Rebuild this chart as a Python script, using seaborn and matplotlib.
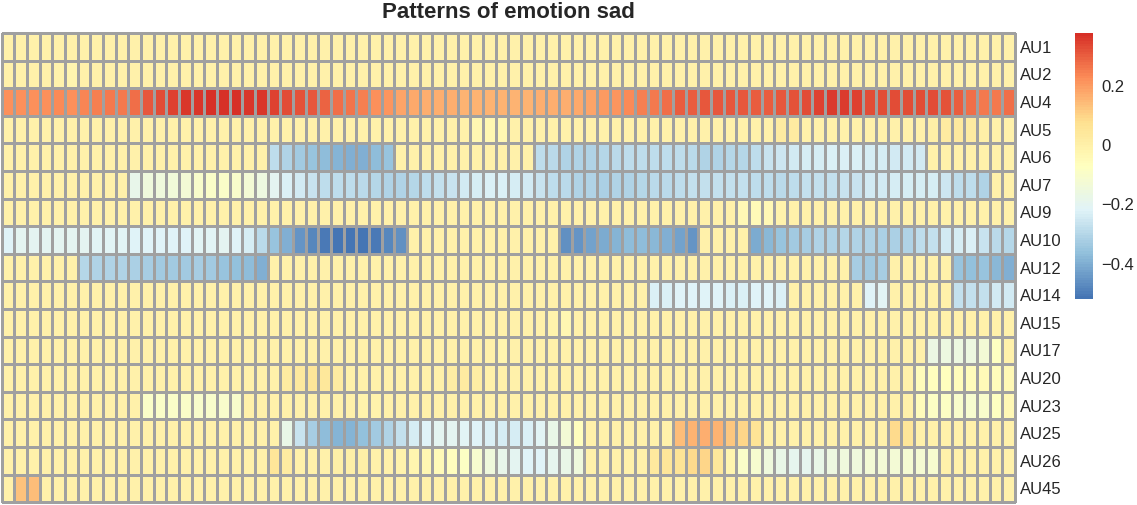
import numpy as np
import pandas as pd
import seaborn as sns
import matplotlib
matplotlib.use("Agg")
import matplotlib.pyplot as plt
from matplotlib.colors import LinearSegmentedColormap

# Action units (rows) and mean pattern value per frame (80 columns)
units = ["AU1", "AU2", "AU4", "AU5", "AU6", "AU7", "AU9", "AU10", "AU12",
         "AU14", "AU15", "AU17", "AU20", "AU23", "AU25", "AU26", "AU45"]

au1 = [0, 0, 0, 0, 0, 0, 0, 0, 0, 0,
       0, 0, 0, 0, 0, 0, 0, 0, 0, 0,
       0, 0, 0, 0, 0, 0, 0, 0, 0, 0,
       0, 0, 0, 0, 0, 0, 0, 0, 0, 0,
       0, 0, 0, 0, 0, 0, 0, 0, 0, 0,
       0, 0, 0, 0, 0, 0, 0, 0, 0, 0,
       0, 0, 0, 0, 0, 0, 0, 0, 0, 0,
       0, 0, 0, 0, 0, 0, 0, 0, 0, 0]
au2 = [0, 0, 0, 0, -0.015, -0.02, 0, 0, 0, 0,
       0, 0, 0, 0, 0, 0, 0, 0, 0, 0,
       0, 0, 0, 0, 0, 0, 0, 0, 0, 0,
       0, 0, 0, 0, 0, 0, 0, 0, 0, 0,
       0, 0, 0, 0, 0, 0, 0, 0, 0, 0,
       0, 0, 0, 0, 0, 0, 0, 0, 0, 0,
       0, 0, 0, 0, 0, 0, 0, 0, 0, 0,
       0, 0, 0, 0, 0, 0, 0, 0, 0, 0]
au4 = [0.225, 0.22, 0.225, 0.225, 0.228, 0.225, 0.24, 0.245, 0.255, 0.26,
       0.28, 0.31, 0.33, 0.348, 0.362, 0.368, 0.378, 0.378, 0.38, 0.37,
       0.362, 0.346, 0.33, 0.32, 0.31, 0.293, 0.28, 0.27, 0.25, 0.225,
       0.21, 0.19, 0.175, 0.17, 0.165, 0.165, 0.162, 0.16, 0.158, 0.158,
       0.16, 0.16, 0.165, 0.17, 0.172, 0.18, 0.19, 0.20, 0.215, 0.23,
       0.25, 0.26, 0.28, 0.30, 0.303, 0.312, 0.312, 0.31, 0.312, 0.305,
       0.305, 0.312, 0.32, 0.33, 0.345, 0.36, 0.355, 0.345, 0.33, 0.33,
       0.33, 0.33, 0.33, 0.33, 0.32, 0.305, 0.28, 0.26, 0.26, 0.28]
au5 = [0, 0, 0, 0, 0, 0, 0, 0, 0, 0,
       0, 0, 0, 0, 0, 0, 0, 0, 0, 0,
       0, 0, 0, 0, 0, 0, 0, 0, 0, 0,
       0, 0, 0, 0, 0, 0, 0, -0.03, -0.03, -0.03,
       0, 0, 0, 0, 0, 0, 0, 0, 0, 0,
       0, 0, 0, 0, 0, 0, 0, 0, 0, 0,
       0, 0.02, 0.025, 0, 0, 0, 0, 0, 0, 0,
       0, 0, 0, 0.01, 0.02, 0.03, 0.025, 0.01, 0, 0]
au6 = [0, 0, 0, 0, 0, 0, 0, 0, 0, 0,
       0, 0, 0, 0, 0, 0, 0, 0, 0, 0,
       0, -0.286, -0.309, -0.332, -0.353, -0.374, -0.388, -0.396, -0.396, -0.376,
       -0.353, 0, 0, 0, 0, 0, 0, 0, 0, 0,
       0, 0, -0.283, -0.295, -0.305, -0.305, -0.31, -0.30, -0.295, -0.285,
       -0.28, -0.285, -0.285, -0.285, -0.29, -0.31, -0.305, -0.30, -0.30, -0.285,
       -0.264, -0.252, -0.243, -0.24, -0.235, -0.23, -0.23, -0.23, -0.24, -0.24,
       -0.243, -0.243, -0.243, 0, 0, 0, 0, 0, 0, 0]
au7 = [0, 0, 0, 0, 0, 0, 0, 0, 0, 0,
       -0.18, -0.15, -0.145, -0.14, -0.13, -0.10, -0.09, -0.09, -0.10, -0.13,
       -0.16, -0.2, -0.23, -0.245, -0.265, -0.28, -0.285, -0.285, -0.29, -0.30,
       -0.305, -0.305, -0.30, -0.285, -0.27, -0.26, -0.25, -0.24, -0.225, -0.225,
       -0.24, -0.25, -0.265, -0.285, -0.295, -0.305, -0.31, -0.315, -0.31, -0.305,
       -0.30, -0.29, -0.287, -0.285, -0.275, -0.27, -0.275, -0.27, -0.275, -0.28,
       -0.285, -0.295, -0.28, -0.275, -0.275, -0.27, -0.265, -0.26, -0.25, -0.245,
       -0.24, -0.235, -0.235, -0.24, -0.255, -0.28, -0.285, -0.305, 0, 0]
au9 = [0, 0, 0, 0, 0, 0, 0, 0, 0, 0,
       0, 0, 0, 0, 0, 0, 0, 0, 0, 0,
       0, 0, 0, 0, 0, 0, 0, 0, 0, 0,
       0, 0, 0, 0, 0, 0, 0, 0, 0, 0,
       0, 0, 0, 0, 0, 0, 0, 0, 0, 0,
       0, 0, 0, 0, 0, 0, 0, 0, -0.04, -0.045,
       -0.035, -0.015, 0, 0, 0, 0, 0, 0, 0, 0,
       0, 0, 0, 0, 0, 0, 0, 0, 0, 0]
au10 = [-0.22, -0.205, -0.2, -0.2, -0.2, -0.2, -0.205, -0.21, -0.208, -0.213,
        -0.218, -0.22, -0.222, -0.218, -0.218, -0.212, -0.21, -0.205, -0.215, -0.24,
        -0.295, -0.35, -0.40, -0.45, -0.48, -0.505, -0.52, -0.52, -0.515, -0.505,
        -0.48, -0.46, 0, 0, 0, 0, 0, 0, 0, 0,
        0, 0, 0, 0, -0.46, -0.45, -0.43, -0.41, -0.39, -0.375,
        -0.375, -0.385, -0.40, -0.43, -0.45, 0, 0, 0, 0, -0.41,
        -0.38, -0.355, -0.34, -0.325, -0.31, -0.305, -0.30, -0.305, -0.31, -0.315,
        -0.315, -0.305, -0.285, -0.27, -0.25, -0.235, -0.23, -0.265, -0.29, -0.30]
au12 = [0, 0, 0, 0, 0, 0, -0.30, -0.305, -0.305, -0.31,
        -0.315, -0.33, -0.335, -0.34, -0.335, -0.33, -0.34, -0.35, -0.365, -0.375,
        -0.395, 0, 0, 0, 0, 0, 0, 0, 0, 0,
        0, 0, 0, 0, 0, 0, 0, 0, 0, 0,
        0, 0, 0, 0, 0, 0, 0, 0, 0, 0,
        0, 0, 0, 0, 0, 0, 0, 0, 0, 0,
        0, 0, 0, 0, 0, 0, 0, -0.33, -0.335, -0.33,
        0, 0, 0, 0, 0, -0.355, -0.36, -0.355, -0.38, -0.40]
au14 = [0, 0, 0, 0, 0, 0, 0, 0, 0, 0,
        0, 0, 0, 0, 0, 0, 0, 0, 0, 0,
        0, 0, 0, 0, 0, 0, 0, 0, 0, 0,
        0, 0, 0, 0, 0, 0, 0, 0, 0, 0,
        0, 0, 0, 0, 0, 0, 0, 0, 0, 0,
        0, -0.225, -0.225, -0.22, -0.22, -0.215, -0.218, -0.225, -0.225, -0.222,
        -0.222, -0.225, 0, 0, 0, 0, 0, 0, -0.222, -0.21,
        0, 0, 0, 0, 0, -0.27, -0.275, -0.27, -0.25, -0.245]
au15 = [0, 0, 0, 0, 0, 0, 0, 0, 0, 0,
        0, 0, 0, 0, 0, 0, 0, 0, 0, 0,
        0, 0, 0, 0, 0, 0, 0, 0, 0, 0,
        0, 0, 0, 0, 0, 0, 0, 0, 0, 0,
        0, 0, 0, -0.01, -0.03, 0, 0, 0, 0, 0,
        0, 0, 0, 0, 0, 0, 0, 0, 0, 0,
        0, 0, 0, 0, 0, 0, 0, 0, 0, 0,
        0, 0, 0, 0, 0, 0, 0, 0, 0, 0]
au17 = [0, 0, 0, 0, 0, 0, 0, 0, 0, 0,
        0, 0, 0, 0, 0, 0, 0, 0, 0, 0,
        0, 0, 0, 0, 0, 0, 0, 0, 0, 0,
        0, 0, 0, 0, 0, 0, 0, 0, 0, -0.02,
        0, 0, 0, 0, 0, 0, 0, 0, 0, 0,
        0, 0, 0, 0, 0, 0, 0, 0, 0, 0,
        0, 0, 0, 0, 0, 0, 0, 0, 0, 0,
        0, 0, 0, -0.167, -0.16, -0.155, -0.16, -0.13, -0.075, 0]
au20 = [0, 0, 0, 0, 0, 0, 0, 0, 0, 0,
        0, 0, 0, 0, 0, 0, 0, 0, 0, 0,
        0, 0, 0.02, 0.03, 0.05, 0.045, 0.02, 0, 0, 0,
        0, 0, 0, 0, 0, 0.015, 0.02, 0.015, 0, 0,
        0, 0, 0, 0, 0, 0, 0, 0, 0, 0,
        0, 0, 0, 0, 0, 0, 0, 0, 0, 0,
        0, 0, 0, 0, 0, 0, 0, 0, 0, 0,
        0, 0, -0.06, -0.065, -0.07, -0.06, -0.055, -0.05, -0.055, -0.035]
au23 = [0, 0, 0, 0, 0, 0, 0, 0, 0, 0,
        0, -0.095, -0.095, -0.095, -0.095, -0.105, -0.105, -0.105, -0.10, 0,
        0, 0, 0, 0, 0, 0, 0, 0, -0.01, -0.01,
        0, 0, 0, 0, 0, 0, 0, 0, 0, 0,
        0, 0, 0, 0, 0, 0, 0, 0, 0, 0,
        0, 0, 0, 0, 0, 0, 0, 0, 0, 0,
        0, 0, 0, 0, 0, 0, 0, 0, 0, 0,
        0, 0, -0.06, -0.08, -0.085, -0.10, -0.11, -0.10, -0.075, -0.04]
au25 = [0, 0, 0, 0, 0, 0, 0, 0, 0, 0,
        0, 0, 0, 0, 0, 0, 0, 0, 0, 0,
        0, 0, -0.175, -0.265, -0.33, -0.375, -0.386, -0.386, -0.365, -0.335,
        -0.31, -0.27, -0.24, -0.215, -0.205, -0.2, -0.207, -0.22, -0.225, -0.24,
        -0.24, -0.225, -0.21, -0.17, -0.13, -0.068, 0, 0, 0, 0,
        0, 0, 0, 0.14, 0.16, 0.17, 0.16, 0.125, 0.095, 0.06,
        0, 0, 0, 0, 0, 0, 0, 0, 0, 0,
        0.09, 0.05, 0, 0, 0, 0, 0, 0, 0, 0]
au26 = [0, 0, 0, 0, 0, 0, 0, 0, 0, 0,
        0, 0, 0, 0, 0, 0, 0, 0, 0, 0,
        0, 0.05, 0.02, 0, 0, 0, 0.01, 0.01, 0.005, 0,
        0, -0.01, -0.02, -0.03, -0.05, -0.065, -0.085, -0.115, -0.15, -0.18,
        -0.2, -0.215, -0.215, -0.195, -0.17, -0.15, 0, 0, 0, 0,
        0, 0.03, 0.05, 0.065, 0.09, 0.095, 0.04, -0.02, -0.09, -0.11,
        -0.15, -0.17, -0.19, -0.19, -0.17, -0.16, -0.15, -0.15, -0.13, -0.13,
        -0.13, -0.12, -0.12, -0.11, 0, 0, 0, 0, 0, 0]
au45 = [0, 0.13, 0.14, 0, 0, 0, 0, 0, 0, 0,
        0, 0, 0, 0, 0, 0, 0, 0, 0, 0,
        0, 0, 0, 0, 0, 0, 0, 0, 0, 0,
        0, 0, 0, 0, 0, 0, 0, 0, 0, 0,
        0, 0, 0, 0, 0, 0, 0, 0, 0, 0,
        0, 0, 0, 0, 0, 0, 0, 0, 0, 0,
        0, 0, 0, 0, 0, 0, 0, 0, 0, 0,
        0, 0, 0, 0, 0, 0, 0, 0, 0, 0]

rows = [au1, au2, au4, au5, au6, au7, au9, au10, au12,
        au14, au15, au17, au20, au23, au25, au26, au45]
data = pd.DataFrame(np.array(rows, dtype=float), index=units)

legend_ticks = [0.2, 0.0, -0.2, -0.4]
legend_labels = ["0.2", "0", "\u22120.2", "\u22120.4"]

# Reversed RdYlBu (7 classes) ramped to 100 colours
ramp = ["#4575B4", "#91BFDB", "#E0F3F8", "#FFFFBF", "#FEE090", "#FC8D59", "#D73027"]
cmap = LinearSegmentedColormap.from_list("rdylbu_r", ramp, N=100)

sns.set_theme(style="white")
plt.rcParams["font.family"] = ["Liberation Sans", "DejaVu Sans"]

W, H = 1137, 505
fig = plt.figure(figsize=(W / 100, H / 100), dpi=100)
ax = fig.add_axes([1.7 / W, (H - 502.2) / H, (1015 - 1.7) / W, (502.2 - 33) / H])
cax = fig.add_axes([1075 / W, (H - 299) / H, 18 / W, 266 / H])

sns.heatmap(data, ax=ax, cbar_ax=cax, cmap=cmap,
            vmin=-0.52, vmax=0.38,
            linewidths=0.9, linecolor="#A0A0A0",
            xticklabels=False, yticklabels=True)

ax.collections[0].set_clip_on(False)
ax.yaxis.tick_right()
ax.tick_params(axis="y", length=0, pad=3.5, labelsize=12, rotation=0)
for lbl in ax.get_yticklabels():
    lbl.set_horizontalalignment("left")
ax.set_xlabel("")
ax.set_ylabel("")

cbar = ax.collections[0].colorbar
cbar.outline.set_visible(False)
cbar.set_ticks(legend_ticks)
cbar.set_ticklabels(legend_labels)
cax.tick_params(length=0, pad=6, labelsize=12)

fig.text((1.7 + 1015) / 2 / W, 1 - 13 / H, "Patterns of emotion sad",
         ha="center", va="center", fontsize=16, fontweight="bold")

fig.savefig("out.png", dpi=100)
